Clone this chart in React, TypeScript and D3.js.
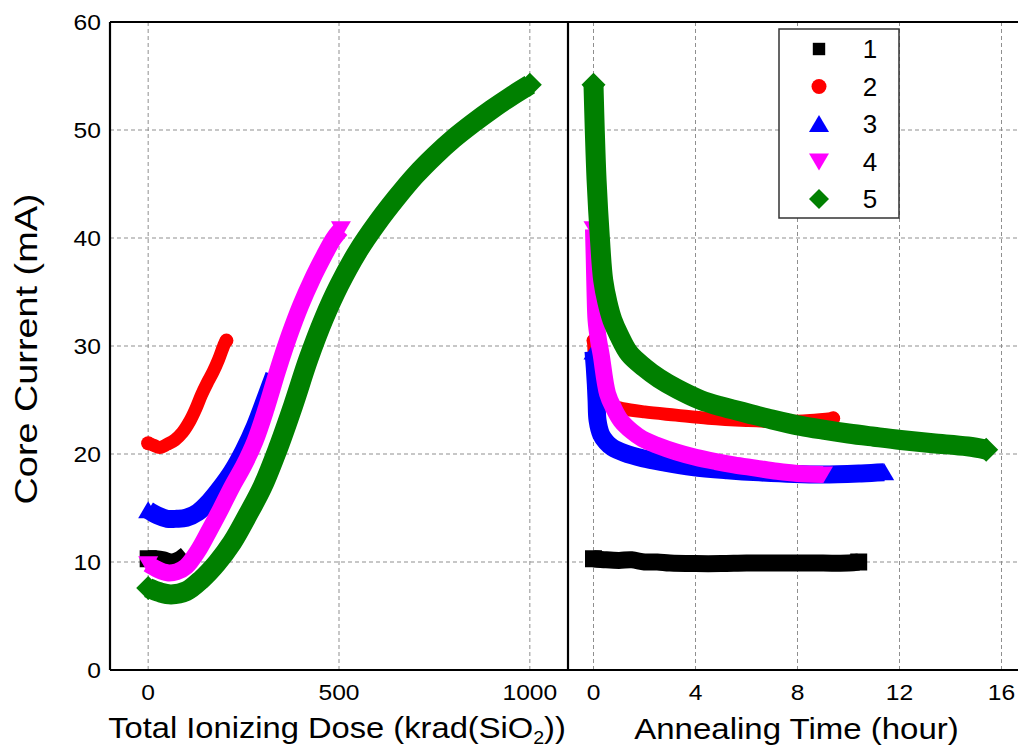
import React from "react";
import * as d3 from "d3";

// ---------- data ----------
const seriesNames = ["1", "2", "3", "4", "5"];
const seriesColors = ["#000000", "#ff0000", "#0000ff", "#ff00ff", "#008000"];
const seriesShapes = ["square", "circle", "triangle", "triangleDown", "diamond"];

const doseTicks = [0, 500, 1000];
const timeTicks = [0, 4, 8, 12, 16];
const currentTicks = [0, 10, 20, 30, 40, 50, 60];

// Total ionizing dose (krad(SiO2)) vs core current (mA)
const tid1: [number, number][] = [[0, 10.3], [20, 10.3], [40, 10.2], [60, 10.0], [80, 10.2], [100, 10.7]];
const tid2: [number, number][] = [
  [0, 21.0], [15, 20.8], [30, 20.6], [50, 20.9], [70, 21.3], [90, 22.0], [110, 23.1],
  [125, 24.2], [140, 25.5], [155, 26.6], [170, 27.6], [185, 28.8], [200, 30.2], [205, 30.5],
];
const tid3: [number, number][] = [
  [0, 14.8], [25, 14.3], [50, 14.0], [75, 14.0], [100, 14.1], [130, 14.6], [160, 15.6],
  [190, 16.9], [220, 18.4], [250, 20.3], [280, 22.6], [310, 25.4], [330, 27.3],
];
const tid4: [number, number][] = [
  [0, 9.8], [25, 9.3], [50, 9.0], [75, 9.1], [100, 9.6], [130, 11.0], [160, 12.9],
  [190, 14.9], [220, 17.0], [250, 18.9], [280, 21.2], [310, 24.3], [340, 27.8],
  [370, 31.0], [400, 33.8], [430, 36.2], [460, 38.3], [485, 39.9], [505, 40.8],
];
const tid5: [number, number][] = [
  [0, 7.6], [30, 7.2], [60, 7.0], [100, 7.3], [140, 8.4], [180, 9.9], [220, 11.8],
  [260, 14.3], [300, 17.0], [340, 20.5], [380, 24.5], [420, 28.8], [460, 32.5],
  [500, 35.6], [550, 38.8], [600, 41.4], [650, 43.7], [700, 45.8], [750, 47.6],
  [800, 49.2], [850, 50.6], [900, 51.9], [950, 53.1], [1000, 54.2],
];

// Annealing time (hour) vs core current (mA)
const ann1: [number, number][] = [
  [0, 10.3], [0.5, 10.2], [1, 10.15], [1.5, 10.2], [2, 10.0], [2.5, 10.0], [3, 9.9],
  [4, 9.85], [5, 9.85], [6, 9.9], [7, 9.9], [8, 9.9], [9, 9.9], [10, 9.9], [10.4, 10.0],
];
const ann2: [number, number][] = [
  [0, 30.5], [0.03, 29.0], [0.06, 27.5], [0.1, 26.3], [0.2, 25.3], [0.4, 24.8],
  [0.7, 24.5], [1.14, 24.2], [2, 23.9], [3.23, 23.6], [4.5, 23.3], [6, 23.1],
  [7.5, 23.0], [8.5, 23.1], [9.4, 23.3],
];
const ann3: [number, number][] = [
  [0, 29.5], [0.05, 28.0], [0.09, 26.5], [0.12, 25.0], [0.16, 23.1], [0.3, 21.8],
  [0.5, 21.1], [0.74, 20.6], [1.2, 20.1], [1.92, 19.6], [2.8, 19.2], [3.88, 18.8],
  [5.25, 18.5], [6.5, 18.3], [7.87, 18.15], [9, 18.1], [10.5, 18.2], [11.4, 18.3],
];
const ann4: [number, number][] = [
  [0, 40.8], [0.03, 38], [0.06, 35], [0.1, 32.4], [0.2, 30.5], [0.3, 29.2],
  [0.55, 25.6], [0.8, 24.2], [1.07, 23.1], [1.5, 22.1], [1.92, 21.4], [2.5, 20.8],
  [3.23, 20.2], [4, 19.7], [4.8, 19.3], [5.5, 19.0], [6.36, 18.7], [7.2, 18.4],
  [8, 18.2], [9, 18.1],
];
const ann5: [number, number][] = [
  [0, 54.2], [0.05, 50], [0.12, 45.4], [0.25, 40], [0.38, 36.1], [0.55, 34.0],
  [0.74, 32.4], [1, 31.0], [1.4, 29.3], [2, 28.0], [2.57, 27.0], [3.3, 26.0],
  [4.2, 25.0], [5, 24.4], [6, 23.8], [7, 23.2], [8.13, 22.6], [9, 22.25],
  [10, 21.9], [11, 21.6], [12.05, 21.3], [13.3, 21.0], [14.67, 20.7], [15.4, 20.4],
];

const tidSeries = [tid1, tid2, tid3, tid4, tid5];
const annSeries = [ann1, ann2, ann3, ann4, ann5];

// ---------- layout ----------
const W = 1018;
const H = 750;
const plotTop = 22;
const plotBottom = 670;
const leftX0 = 110;
const splitX = 568;
const rightX1 = 1027;

const FONT = "'Liberation Sans', Arial, Helvetica, sans-serif";
const bandWidth = [17, 13, 18, 17, 20];
const endSize = [8.5, 7, 10, 10, 12];
const showEndLeft = [false, true, false, true, true];

function markerPath(shape: string, s: number): string {
  switch (shape) {
    case "square":
      return `M${-s},${-s}H${s}V${s}H${-s}Z`;
    case "triangle":
      return `M0,${-s * 0.9}L${s},${s * 0.8}L${-s},${s * 0.8}Z`;
    case "triangleDown":
      return `M0,${s * 0.9}L${s},${-s * 0.8}L${-s},${-s * 0.8}Z`;
    case "diamond":
      return `M0,${-s}L${s},0L0,${s}L${-s},0Z`;
    default:
      return "";
  }
}

function Marker({ shape, x, y, s, color }: { shape: string; x: number; y: number; s: number; color: string }) {
  if (shape === "circle") return <circle cx={x} cy={y} r={s} fill={color} />;
  return <path d={markerPath(shape, s)} transform={`translate(${x},${y})`} fill={color} />;
}

export default function App() {
  const y = d3.scaleLinear().domain([0, 60]).range([plotBottom, plotTop]);
  const xL = d3.scaleLinear().domain([-100, 1100]).range([leftX0, splitX]);
  const xR = d3.scaleLinear().domain([-1, 17]).range([splitX, rightX1]);

  const lineL = d3
    .line<[number, number]>()
    .x((d) => xL(d[0]))
    .y((d) => y(d[1]))
    .curve(d3.curveCatmullRom.alpha(0.5));
  const lineR = d3
    .line<[number, number]>()
    .x((d) => xR(d[0]))
    .y((d) => y(d[1]))
    .curve(d3.curveCatmullRom.alpha(0.5));

  const gridStyle = { stroke: "#8f8f8f", strokeWidth: 1, strokeDasharray: "4,3" };

  const legendX = 779;
  const legendY = 29;
  const legendW = 120;
  const legendH = 189;
  const rowY0 = 49;
  const rowStep = 37.5;

  return (
    <svg
      width={W}
      height={H}
      viewBox={`0 0 ${W} ${H}`}
      style={{ position: "absolute", left: 0, top: 0, background: "#fff" }}
      fontFamily={FONT}
    >
      <rect x={0} y={0} width={W} height={H} fill="#fff" />
      <defs>
        <clipPath id="clipL">
          <rect x={leftX0} y={plotTop} width={splitX - leftX0} height={plotBottom - plotTop} />
        </clipPath>
        <clipPath id="clipR">
          <rect x={splitX} y={plotTop} width={rightX1 - splitX} height={plotBottom - plotTop} />
        </clipPath>
      </defs>

      {/* grid */}
      {currentTicks
        .filter((t) => t > 0 && t < 60)
        .map((t) => (
          <line key={`gy${t}`} x1={leftX0} x2={rightX1} y1={y(t)} y2={y(t)} {...gridStyle} />
        ))}
      {doseTicks.map((t) => (
        <line key={`gxl${t}`} x1={xL(t)} x2={xL(t)} y1={plotTop} y2={plotBottom} {...gridStyle} />
      ))}
      {timeTicks.map((t) => (
        <line key={`gxr${t}`} x1={xR(t)} x2={xR(t)} y1={plotTop} y2={plotBottom} {...gridStyle} />
      ))}

      {/* left panel series */}
      <g clipPath="url(#clipL)">
        {tidSeries.map((data, i) => {
          const first = data[0];
          const last = data[data.length - 1];
          return (
            <g key={`tid${i}`}>
              <path
                d={lineL(data) || ""}
                fill="none"
                stroke={seriesColors[i]}
                strokeWidth={bandWidth[i]}
                strokeLinejoin="round"
                strokeLinecap={i === 1 ? "round" : "butt"}
              />
              <Marker shape={seriesShapes[i]} x={xL(first[0])} y={y(first[1])} s={endSize[i]} color={seriesColors[i]} />
              {showEndLeft[i] && (
                <Marker shape={seriesShapes[i]} x={xL(last[0])} y={y(last[1])} s={endSize[i]} color={seriesColors[i]} />
              )}
            </g>
          );
        })}
      </g>

      {/* right panel series */}
      <g clipPath="url(#clipR)">
        {annSeries.map((data, i) => {
          const first = data[0];
          const last = data[data.length - 1];
          return (
            <g key={`ann${i}`}>
              <path
                d={lineR(data) || ""}
                fill="none"
                stroke={seriesColors[i]}
                strokeWidth={bandWidth[i]}
                strokeLinejoin="round"
                strokeLinecap={i === 1 ? "round" : "butt"}
              />
              <Marker shape={seriesShapes[i]} x={xR(first[0])} y={y(first[1])} s={endSize[i]} color={seriesColors[i]} />
              <Marker shape={seriesShapes[i]} x={xR(last[0])} y={y(last[1])} s={endSize[i]} color={seriesColors[i]} />
            </g>
          );
        })}
      </g>

      {/* frame */}
      <line x1={leftX0} x2={W} y1={plotTop} y2={plotTop} stroke="#000" strokeWidth={2.2} />
      <line x1={leftX0} x2={W} y1={plotBottom} y2={plotBottom} stroke="#000" strokeWidth={2.2} />
      <line x1={leftX0} x2={leftX0} y1={plotTop} y2={plotBottom} stroke="#000" strokeWidth={2.2} />
      <line x1={splitX} x2={splitX} y1={plotTop} y2={plotBottom} stroke="#000" strokeWidth={2.2} />

      {/* y tick labels */}
      {currentTicks.map((t) => (
        <text
          key={`yl${t}`}
          transform={`translate(101,${y(t)}) scale(1.12,1)`}
          textAnchor="end"
          dy="0.36em"
          fontSize={22}
          fill="#000"
        >
          {t}
        </text>
      ))}

      {/* x tick labels */}
      {doseTicks.map((t) => (
        <text key={`xl${t}`} transform={`translate(${xL(t)},700) scale(1.12,1)`} textAnchor="middle" fontSize={22}>
          {t}
        </text>
      ))}
      {timeTicks.map((t) => (
        <text key={`xr${t}`} transform={`translate(${xR(t)},700) scale(1.12,1)`} textAnchor="middle" fontSize={22}>
          {t}
        </text>
      ))}

      {/* axis titles */}
      <text transform={`translate(${(leftX0 + splitX) / 2 - 2},738) scale(1.09,1)`} textAnchor="middle" fontSize={30}>
        Total Ionizing Dose (krad(SiO
        <tspan fontSize={18} dy={6}>
          2
        </tspan>
        <tspan dy={-6}>))</tspan>
      </text>
      <text transform={`translate(${(splitX + rightX1) / 2 - 1},739) scale(1.1,1)`} textAnchor="middle" fontSize={30}>
        Annealing Time (hour)
      </text>
      <text transform={`translate(37,349) rotate(-90) scale(1.22,1)`} textAnchor="middle" fontSize={31}>
        Core Current (mA)
      </text>

      {/* legend */}
      <rect x={legendX} y={legendY} width={legendW} height={legendH} fill="#fff" stroke="#333" strokeWidth={1.5} />
      {seriesNames.map((name, i) => {
        const cy = rowY0 + i * rowStep;
        const s = [6.2, 7.5, 10, 10, 10][i];
        return (
          <g key={`lg${i}`}>
            <Marker shape={seriesShapes[i]} x={819} y={cy} s={s} color={seriesColors[i]} />
            <text x={870} y={cy} dy="0.36em" textAnchor="middle" fontSize={26}>
              {name}
            </text>
          </g>
        );
      })}
    </svg>
  );
}
